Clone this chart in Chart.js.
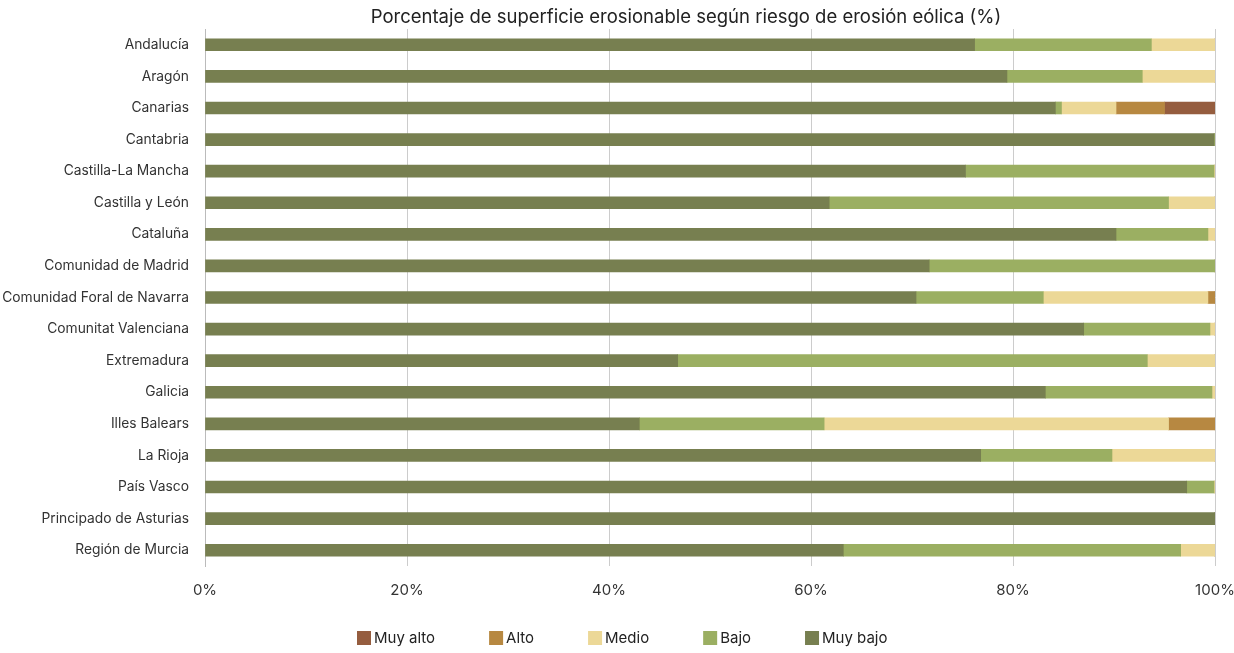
<!DOCTYPE html>
<html>
<head>
<meta charset="utf-8">
<script src="https://cdn.jsdelivr.net/npm/chart.js@4.4.1/dist/chart.umd.min.js"></script>
<style>
html,body{margin:0;padding:0;background:#fff;}
canvas{display:block;}
</style>
</head>
<body>
<canvas id="c" width="1234" height="653"></canvas>
<script>
const categories = ["Andalucía","Aragón","Canarias","Cantabria","Castilla-La Mancha","Castilla y León","Cataluña","Comunidad de Madrid","Comunidad Foral de Navarra","Comunitat Valenciana","Extremadura","Galicia","Illes Balears","La Rioja","País Vasco","Principado de Asturias","Región de Murcia"];
const muyBajo = [76.2, 79.4, 84.2, 99.9, 75.3, 61.8, 90.2, 71.7, 70.4, 87.0, 46.8, 83.2, 43.0, 76.8, 97.2, 100, 63.2];
const bajo    = [17.5, 13.4, 0.6, 0.1, 24.6, 33.6, 9.1, 28.3, 12.6, 12.5, 46.5, 16.5, 18.3, 13.0, 2.7, 0, 33.4];
const medio   = [6.3, 7.2, 5.4, 0, 0.1, 4.6, 0.7, 0, 16.3, 0.5, 6.7, 0.3, 34.1, 10.2, 0.1, 0, 3.4];
const alto    = [0, 0, 4.8, 0, 0, 0, 0, 0, 0.7, 0, 0, 0, 4.6, 0, 0, 0, 0];
const muyAlto = [0, 0, 5.0, 0, 0, 0, 0, 0, 0, 0, 0, 0, 0, 0, 0, 0, 0];
const seriesNames = ["Muy bajo","Bajo","Medio","Alto","Muy alto"];
const xTicks = ["0%","20%","40%","60%","80%","100%"];
const titleText = 'Porcentaje de superficie erosionable según riesgo de erosión eólica (%)';

const colors = ["#777F50","#9BAF62","#ECD897","#B78841","#955D3F"];
const values = [muyBajo, bajo, medio, alto, muyAlto];
const FONT = "Inter, 'Noto Sans', sans-serif";

const titleAndLegend = {
  id: 'titleAndLegend',
  afterDraw(chart) {
    const ctx = chart.ctx;
    ctx.save();
    ctx.fillStyle = '#222';
    ctx.font = `400 18.5px ${FONT}`;
    ctx.textAlign = 'center';
    ctx.textBaseline = 'middle';
    ctx.fillText(titleText, 686, 17);
    ctx.font = `400 15px ${FONT}`;
    ctx.textAlign = 'left';
    let x = 357;
    const y = 638;
    const ds = chart.data.datasets.slice().reverse();
    ds.forEach(d => {
      ctx.fillStyle = d.backgroundColor;
      ctx.fillRect(x, y - 7, 14, 14);
      ctx.fillStyle = '#222';
      ctx.fillText(d.label, x + 17, y);
      x += 17 + ctx.measureText(d.label).width + 54;
    });
    ctx.restore();
  }
};

new Chart(document.getElementById('c'), {
  type: 'bar',
  data: {
    labels: categories,
    datasets: seriesNames.map((n,i)=>({
      label: n, data: values[i], backgroundColor: colors[i],
      barThickness: 12, borderWidth: 0
    }))
  },
  plugins: [titleAndLegend],
  options: {
    indexAxis: 'y',
    responsive: false,
    animation: false,
    layout: { padding: { left: 0, right: 19, top: 29, bottom: 47 } },
    plugins: {
      title: { display: false },
      legend: { display: false },
      tooltip: { enabled: false }
    },
    scales: {
      x: {
        stacked: true, min: 0, max: 100,
        ticks: {
          stepSize: 20,
          color: '#333',
          font: { family: FONT, size: 15 },
          padding: 15,
          callback: (v, i) => xTicks[i]
        },
        grid: { color: '#cccccc', drawTicks: false },
        border: { display: false },
        afterFit: s => { s.paddingLeft = 0; s.paddingRight = 0; s.height = 40; }
      },
      y: {
        stacked: true,
        ticks: { color: '#333', font: { family: FONT, size: 13.8 }, padding: 8 },
        grid: { display: false },
        border: { display: true, color: '#bbbbbb', width: 1 },
        afterFit: s => { s.width = 205; }
      }
    }
  }
});
</script>
</body>
</html>
